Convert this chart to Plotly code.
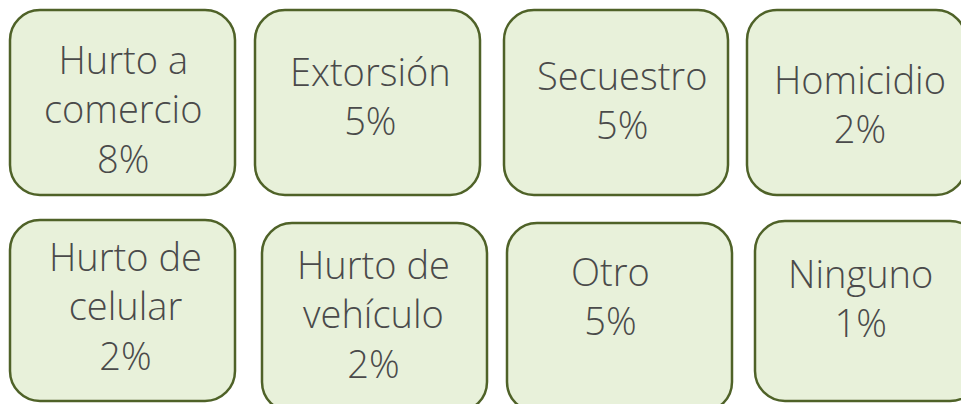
import plotly.graph_objects as go

# ---- data ----
categories = ["Hurto a comercio", "Extorsión", "Secuestro", "Homicidio",
              "Hurto de celular", "Hurto de vehículo", "Otro", "Ninguno"]
category_lines = [["Hurto a", "comercio"], ["Extorsión"], ["Secuestro"], ["Homicidio"],
                  ["Hurto de", "celular"], ["Hurto de", "vehículo"], ["Otro"], ["Ninguno"]]
values_pct = [8, 5, 5, 2, 2, 2, 5, 1]

# ---- layout (positions in screenshot pixels) ----
W, H = 969, 404
OFF = 8  # page body margin
boxes = [  # x0, y0, x1, y1
    (10, 10, 235, 195), (255, 10, 480, 195), (504, 10, 728, 195), (747, 10, 966, 195),
    (10, 220, 235, 401), (262, 223, 487, 412), (507, 223, 732, 412), (755, 221, 980, 401),
]
# mean text baseline per box and x-centres
mid_baseline = [123, 110, 114, 118, 320, 328, 310, 312]
xcenters = [123, 370, 622, 860, 125, 373, 610, 860]

FILL = "#E8F1DA"
LINE = "#4F6228"
TXT = "#4A4A4A"
FS = 38
R = 30


def rrect(x0, y0, x1, y1, r=R):
    k = 0.5523 * r
    return (f"M{x0+r},{y0} L{x1-r},{y0} C{x1-r+k},{y0} {x1},{y0+r-k} {x1},{y0+r} "
            f"L{x1},{y1-r} C{x1},{y1-r+k} {x1-r+k},{y1} {x1-r},{y1} "
            f"L{x0+r},{y1} C{x0+r-k},{y1} {x0},{y1-r+k} {x0},{y1-r} "
            f"L{x0},{y0+r} C{x0},{y0+r-k} {x0+r-k},{y0} {x0+r},{y0} Z")


fig = go.Figure()
shapes = []
annotations = []
for i, (cat, lines, v) in enumerate(zip(categories, category_lines, values_pct)):
    x0, y0, x1, y1 = boxes[i]
    shapes.append(dict(type="path", path=rrect(x0, y0, x1, y1), xref="x", yref="y",
                       fillcolor=FILL, line=dict(color=LINE, width=2.5), layer="below"))
    text = "<br>".join(list(lines) + [f"{v}%"])
    annotations.append(dict(x=xcenters[i], y=mid_baseline[i] - 15, xref="x", yref="y", text=text,
                            showarrow=False, xanchor="center", yanchor="middle", align="center",
                            font=dict(family="Open Sans, sans-serif", size=FS,
                                      color=TXT, weight=300)))

fig.add_trace(go.Scatter(x=[OFF, W + OFF], y=[OFF, H + OFF], mode="markers",
                         marker=dict(opacity=0), hoverinfo="skip", showlegend=False))
fig.update_layout(
    width=W, height=H, margin=dict(l=0, r=0, t=0, b=0),
    paper_bgcolor="white", plot_bgcolor="white",
    xaxis=dict(range=[OFF, W + OFF], visible=False, fixedrange=True),
    yaxis=dict(range=[H + OFF, OFF], visible=False, fixedrange=True),
    shapes=shapes, annotations=annotations, showlegend=False,
)
fig.write_html("out.html")
